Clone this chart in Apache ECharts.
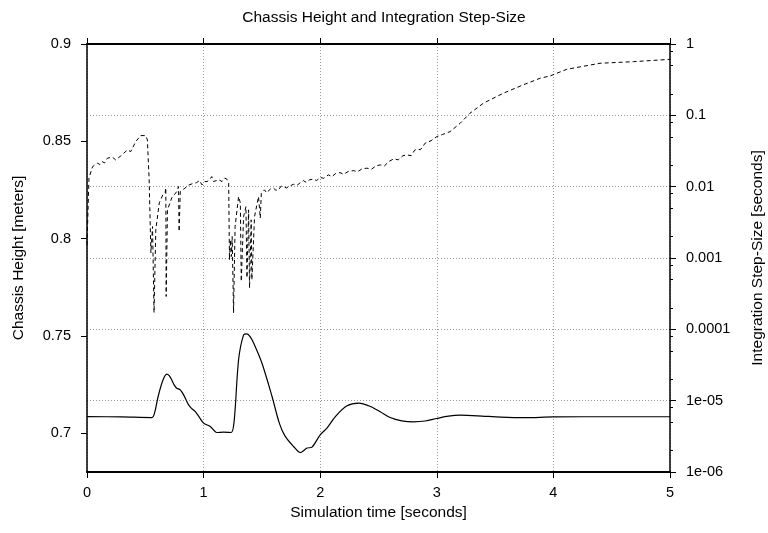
<!DOCTYPE html>
<html><head><meta charset="utf-8">
<script src="https://cdn.jsdelivr.net/npm/echarts@6/dist/echarts.min.js"></script>
<style>html,body{margin:0;padding:0;background:#fff}#c{width:768px;height:533px}</style>
</head><body><div id="c"></div>
<script>
const titleText = 'Chassis Height and Integration Step-Size';
const xName = 'Simulation time [seconds]';
const leftName = 'Chassis Height [meters]';
const rightName = 'Integration Step-Size [seconds]';
const leftTicks = [0.7, 0.75, 0.8, 0.85, 0.9];
const rightTickValues = [1, 0.1, 0.01, 0.001, 0.0001, 1e-5, 1e-6];
const rightTickLabels = ['1', '0.1', '0.01', '0.001', '0.0001', '1e-05', '1e-06'];
const rightMinorTicks = [8e-6,5e-6,2e-6,8e-5,5e-5,2e-5,8e-4,5e-4,2e-4,8e-3,5e-3,2e-3,8e-2,5e-2,2e-2,0.8,0.5,0.2];

const heightT = [0,0.3,0.557,0.58,0.61,0.65,0.683,0.705,0.726,0.75,0.77,0.8,0.83,0.871,0.9,0.929,0.96,1.0,1.057,1.114,1.171,1.237,1.263,1.3,1.343,1.372,1.4,1.43,1.5,1.587,1.65,1.7,1.772,1.829,1.887,1.93,2.0,2.058,2.13,2.23,2.33,2.43,2.515,2.6,2.7,2.8,2.9,3.0,3.1,3.2,3.35,3.55,3.75,4.0,4.5,5.0];
const heightV = [0.7085,0.7083,0.708,0.7105,0.7188,0.727,0.7303,0.7295,0.7274,0.7245,0.7231,0.7222,0.7195,0.7145,0.7125,0.711,0.7085,0.7051,0.7034,0.7003,0.7005,0.7003,0.7068,0.7377,0.7505,0.751,0.7495,0.7462,0.736,0.7188,0.705,0.6983,0.6931,0.69,0.6923,0.6928,0.6991,0.7026,0.7085,0.714,0.7154,0.7137,0.711,0.708,0.7063,0.7058,0.7062,0.7075,0.7087,0.7092,0.7089,0.7082,0.7079,0.7083,0.7084,0.7084];

const stepT = [0,0.017,0.048,0.09,0.11,0.13,0.15,0.175,0.218,0.246,0.29,0.347,0.375,0.418,0.46,0.503,0.518,0.533,0.548,0.562,0.575,0.59,0.62,0.65,0.67,0.676,0.679,0.69,0.727,0.77,0.785,0.79,0.8,0.84,0.87,0.9,0.94,0.965,0.986,1.01,1.03,1.05,1.07,1.085,1.1,1.13,1.158,1.18,1.2,1.215,1.222,1.23,1.238,1.245,1.257,1.27,1.3,1.315,1.323,1.343,1.363,1.372,1.386,1.394,1.408,1.414,1.437,1.471,1.486,1.495,1.523,1.54,1.557,1.58,1.6,1.62,1.643,1.665,1.686,1.71,1.741,1.77,1.8,1.83,1.855,1.88,1.91,1.94,1.97,2.0,2.03,2.07,2.1,2.13,2.17,2.2,2.24,2.286,2.32,2.36,2.4,2.44,2.48,2.515,2.55,2.59,2.63,2.67,2.71,2.744,2.78,2.81,2.83,2.86,2.9,2.95,3.0,3.05,3.114,3.2,3.285,3.4,3.57,3.74,3.886,3.97,4.115,4.4,4.686,5.0];
const stepV = [0.00153,0.0133,0.0191,0.0213,0.0205,0.0225,0.0215,0.0251,0.0259,0.0237,0.027,0.0328,0.031,0.0428,0.052,0.052,0.0452,0.01245,0.00118,0.00276,0.000171,0.00248,0.00593,0.00767,0.00819,0.00962,0.000289,0.00473,0.00697,0.00854,0.01003,0.00235,0.00854,0.00953,0.0105,0.01094,0.0114,0.0122,0.0106,0.0118,0.01178,0.0125,0.01385,0.0118,0.0114,0.0125,0.0118,0.0132,0.01274,0.0112,0.000944,0.0018,0.00105,0.002,0.00017,0.00276,0.00727,0.00593,0.000469,0.00381,0.00526,0.000528,0.00473,0.000379,0.00343,0.000495,0.00381,0.00727,0.00362,0.0081,0.00902,0.0082,0.0081,0.0095,0.00953,0.0089,0.00902,0.0102,0.01003,0.0096,0.01026,0.0108,0.0104,0.0114,0.01217,0.0115,0.0125,0.01274,0.0122,0.0135,0.0131,0.01463,0.0138,0.0152,0.01576,0.0149,0.0163,0.0168,0.0162,0.0178,0.01816,0.0176,0.0196,0.0202,0.0195,0.0226,0.0245,0.0238,0.0272,0.0279,0.0272,0.0325,0.0335,0.033,0.0407,0.044,0.0503,0.054,0.0591,0.0775,0.107,0.148,0.204,0.267,0.331,0.356,0.442,0.537,0.565,0.61];

const FONT = 'Liberation Sans, Arial, sans-serif';
const LBL = 14.5, NM = 15.5;
const gridLine = {show: true, lineStyle: {color: '#999', width: 1, type: [1, 2]}};
const chart = echarts.init(document.getElementById('c'), null, {renderer: 'canvas'});
chart.setOption({
  animation: false,
  backgroundColor: '#fff',
  textStyle: {fontFamily: FONT, color: '#000'},
  title: {text: titleText, left: 'center', top: 5, textStyle: {fontFamily: FONT, fontSize: NM, fontWeight: 'normal', color: '#000'}},
  grid: {left: 87, right: 98, top: 44, bottom: 61, containLabel: false, outerBoundsMode: 'none'},
  xAxis: [{
    type: 'value', min: 0, max: 5, interval: 1, position: 'bottom',
    name: xName, nameLocation: 'middle', nameGap: 32,
    nameTextStyle: {fontFamily: FONT, fontSize: NM, color: '#000'},
    axisLine: {show: true, onZero: false, lineStyle: {color: '#000', width: 2}},
    axisTick: {show: true, length: 6, inside: false, lineStyle: {color: '#000'}},
    axisLabel: {fontFamily: FONT, fontSize: LBL, color: '#000', margin: 13},
    splitLine: gridLine
  }, {
    type: 'value', min: 0, max: 5, interval: 1, position: 'top',
    axisLine: {show: true, onZero: false, lineStyle: {color: '#000', width: 2}},
    axisTick: {show: true, length: 6, inside: false, lineStyle: {color: '#000'}},
    axisLabel: {show: false}, splitLine: {show: false}
  }],
  yAxis: [{
    type: 'value', min: 0.68, max: 0.9, position: 'left',
    name: leftName, nameLocation: 'middle', nameGap: 60, nameRotate: 90,
    nameTextStyle: {fontFamily: FONT, fontSize: NM, color: '#000'},
    axisLine: {show: true, onZero: false, lineStyle: {color: '#000', width: 1.5}},
    axisTick: {show: true, length: 6, inside: false, customValues: leftTicks, lineStyle: {color: '#000'}},
    axisLabel: {fontFamily: FONT, fontSize: LBL, color: '#000', margin: 16, customValues: leftTicks},
    splitLine: {show: false}
  }, {
    type: 'log', logBase: 10, min: 1e-6, max: 1, interval: 1, position: 'right',
    name: rightName, nameLocation: 'middle', nameGap: 80, nameRotate: 90,
    nameTextStyle: {fontFamily: FONT, fontSize: NM, color: '#000'},
    axisLine: {show: true, onZero: false, lineStyle: {color: '#000', width: 1.5}},
    axisTick: {show: true, length: 6, inside: false, lineStyle: {color: '#000'}},
    axisLabel: {fontFamily: FONT, fontSize: LBL, color: '#000', margin: 16,
      formatter: function (v) {
        for (let i = 0; i < rightTickValues.length; i++) {
          if (Math.abs(Math.log10(v) - Math.log10(rightTickValues[i])) < 1e-6) return rightTickLabels[i];
        }
        return '';
      }},
    splitLine: gridLine
  }, {
    type: 'log', logBase: 10, min: 1e-6, max: 1, position: 'right',
    axisLine: {show: false, onZero: false},
    axisTick: {show: true, length: 3, inside: false, customValues: rightMinorTicks, lineStyle: {color: '#000'}},
    axisLabel: {show: false}, splitLine: {show: false}
  }],
  series: [{
    type: 'line', xAxisIndex: 0, yAxisIndex: 0, symbol: 'none', smooth: 0.3,
    lineStyle: {color: '#000', width: 1.2},
    data: heightT.map((t, i) => [t, heightV[i]]), z: 3
  }, {
    type: 'line', xAxisIndex: 0, yAxisIndex: 1, symbol: 'none',
    lineStyle: {color: '#000', width: 1, type: [4, 3]},
    data: stepT.map((t, i) => [t, stepV[i]]), z: 3
  }]
});
</script></body></html>
